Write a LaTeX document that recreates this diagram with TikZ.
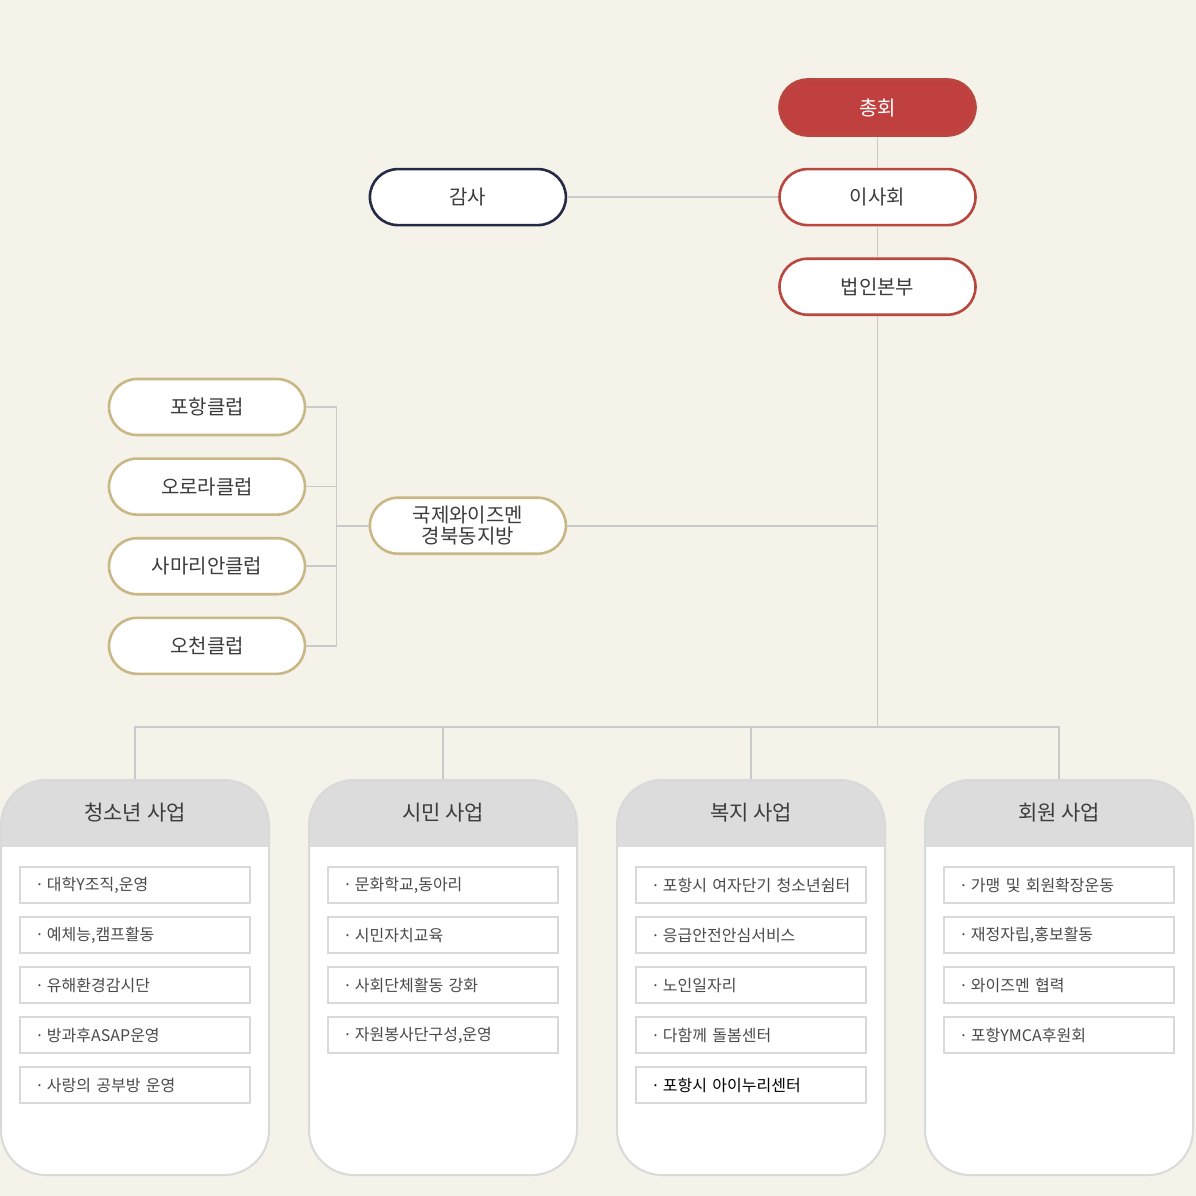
\documentclass[tikz,border=0pt]{standalone}
\usepackage{fontspec}
\setmainfont{Noto Sans CJK KR}
\usepackage{tikz}
\usetikzlibrary{positioning}

\definecolor{grund}{HTML}{F5F2E9}
\definecolor{rot}{HTML}{C0403F}
\definecolor{rotrand}{HTML}{B8473F}
\definecolor{marine}{HTML}{262B45}
\definecolor{gold}{HTML}{C9B785}
\definecolor{linie}{HTML}{CACACA}
\definecolor{kopfgrau}{HTML}{DCDCDC}
\definecolor{rand}{HTML}{D9D9D9}
\definecolor{schrift}{HTML}{3C3C3C}
\definecolor{postschrift}{HTML}{4A4A4A}

\begin{document}
\begin{tikzpicture}[x=1pt, y=-1pt,
every node/.append style = {inner sep=1.5pt, text=schrift},
node distance = 31pt and 211pt,
 punkt/.style = {rectangle, rounded corners=28pt, draw, line width=2.6pt,
                 fill=white, minimum width=196pt, minimum height=56pt,
                 align=center, font=\fontsize{20}{21}\selectfont},
 rotpunkt/.style = {punkt, draw=rotrand, fill=rot, text=white},
 rundpunkt/.style = {punkt, draw=rotrand},
 goldpunkt/.style = {punkt, draw=gold},
 panel/.style = {rectangle, rounded corners=45pt, draw=rand, line width=2pt,
                 fill=white, minimum width=268pt, minimum height=395pt,
                 path picture={\fill[kopfgrau, sharp corners]
                   (path picture bounding box.north west)
                   rectangle ([yshift=-67pt]path picture bounding box.north east);}},
 kopf/.style = {minimum width=270pt, minimum height=67pt,
                font=\fontsize{21}{22}\selectfont},
 post/.style = {rectangle, draw=rand, line width=2pt, fill=white,
                text width=208pt, inner xsep=11pt, minimum height=36pt,
                align=left, text=postschrift, font=\fontsize{16}{17}\selectfont,
                execute at begin node={\hspace*{4pt}·\hspace{3pt}}},
 linje/.style = {draw=linie, line width=1.6pt}
                    ]
\fill[grund] (0,0) rectangle (1196,1196);
\useasboundingbox (0,0) rectangle (1196,1196);
%nodes
\node (chonghoe) [rotpunkt] at (877.5,107.5)     {총회};
\node (isahoe)   [rundpunkt, below=of chonghoe]  {이사회};
\node (bonbu)    [rundpunkt, below=of isahoe]    {법인본부};
\node (gamsa)    [punkt, draw=marine,
                  left=of isahoe]                {감사};
\node (wise)     [goldpunkt, below=270pt of gamsa] {국제와이즈멘\\경북동지방};
%
\node (pohang)   [goldpunkt] at (207,407)        {포항클럽};
\node (orora)    [goldpunkt, below=21pt of pohang]   {오로라클럽};
\node (samarian) [goldpunkt, below=21pt of orora]    {사마리안클럽};
\node (ocheon)   [goldpunkt, below=21pt of samarian] {오천클럽};
% panels
\node (youth)    [panel] at (135,977.5)          {};
\node (civic)    [panel, right=38pt of youth]    {};
\node (welfare)  [panel, right=38pt of civic]    {};
\node (member)   [panel, right=38pt of welfare]  {};
\node (youthhead)   [kopf, below=0pt of youth.north]   {청소년 사업};
\node (civichead)   [kopf, below=0pt of civic.north]   {시민 사업};
\node (welfarehead) [kopf, below=0pt of welfare.north] {복지 사업};
\node (memberhead)  [kopf, below=0pt of member.north]  {회원 사업};
%
\node (y1) [post, below=20pt of youthhead] {대학Y조직,운영};
\node (y2) [post, below=12pt of y1]        {예체능,캠프활동};
\node (y3) [post, below=12pt of y2]        {유해환경감시단};
\node (y4) [post, below=12pt of y3]        {방과후ASAP운영};
\node (y5) [post, below=12pt of y4]        {사랑의 공부방 운영};
%
\node (c1) [post, below=20pt of civichead] {문화학교,동아리};
\node (c2) [post, below=12pt of c1]        {시민자치교육};
\node (c3) [post, below=12pt of c2]        {사회단체활동 강화};
\node (c4) [post, below=12pt of c3]        {자원봉사단구성,운영};
%
\node (w1) [post, below=20pt of welfarehead] {포항시 여자단기 청소년쉼터};
\node (w2) [post, below=12pt of w1]          {응급안전안심서비스};
\node (w3) [post, below=12pt of w2]          {노인일자리};
\node (w4) [post, below=12pt of w3]          {다함께 돌봄센터};
\node (w5) [post, text=black, below=12pt of w4] {포항시 아이누리센터};
%
\node (m1) [post, below=20pt of memberhead] {가맹 및 회원확장운동};
\node (m2) [post, below=12pt of m1]         {재정자립,홍보활동};
\node (m3) [post, below=12pt of m2]         {와이즈멘 협력};
\node (m4) [post, below=12pt of m3]         {포항YMCA후원회};
% edges
\coordinate (bus)   at (877.5,727);
\coordinate (knick) at ([xshift=-32pt]wise.west);
\draw[linje] (chonghoe) -- (isahoe);
\draw[linje] (isahoe)   -- (bonbu);
\draw[linje] (bonbu)    -- (bus);
\draw[linje] (gamsa)    -- (isahoe);
\draw[linje] (wise)     -- (wise -| bonbu);
\draw[linje] (pohang.east) -| (knick) |- (ocheon.east);
\draw[linje] (orora.east)    -- (orora.east -| knick);
\draw[linje] (samarian.east) -- (samarian.east -| knick);
\draw[linje] (knick) -- (wise);
\draw[linje] (youth.north) |- (bus) -| (member.north);
\draw[linje] (civic.north)   -- (civic.north |- bus);
\draw[linje] (welfare.north) -- (welfare.north |- bus);
\end{tikzpicture}
\end{document}
